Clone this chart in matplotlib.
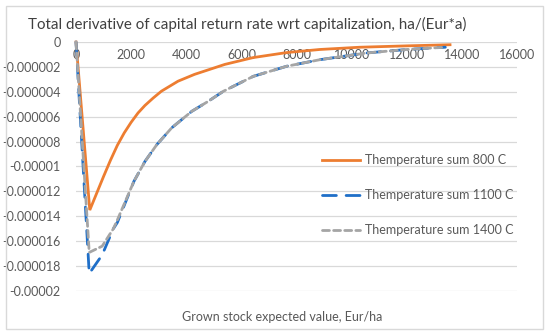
import matplotlib
matplotlib.use("Agg")
import matplotlib.pyplot as plt
import numpy as np
from matplotlib.patches import Rectangle
from matplotlib.ticker import FuncFormatter, MultipleLocator

plt.rcParams['font.family'] = ['Lato', 'DejaVu Sans']

# Data (y values in units of 1e-6)
x_800 = [0, 500, 1000, 1250, 1500, 1750, 2000, 2250, 2500, 2800, 3100, 3700, 4300, 5400, 6430, 7640, 8850, 10300, 12000, 13570]
y_800 = [0, -13.5, -10.8, -9.5, -8.3, -7.3, -6.45, -5.7, -5.1, -4.5, -3.95, -3.15, -2.6, -1.8, -1.25, -0.85, -0.6, -0.42, -0.31, -0.22]

x_dash = [0, 480, 950, 1355, 1500, 2100, 2500, 2930, 3470, 4200, 4800, 5345, 6430, 7640, 8850, 10550, 12000, 13400]
y_1100 = [0, -18.6, -17.1, -15.0, -14.5, -11.2, -9.6, -8.25, -6.9, -5.57, -4.76, -3.96, -2.76, -1.95, -1.42, -0.88, -0.6, -0.42]
y_1400 = [0, -16.9, -16.4, -15.0, -14.3, -11.2, -9.6, -8.25, -6.9, -5.57, -4.76, -3.96, -2.76, -1.95, -1.42, -0.88, -0.6, -0.42]

labels = ["Themperature sum 800 C", "Themperature sum 1100 C", "Themperature sum 1400 C"]
title = "Total derivative of capital return rate wrt capitalization, ha/(Eur*a)"
xlabel = "Grown stock expected value, Eur/ha"

scale = 1e-6

fig = plt.figure(figsize=(5.5, 3.35), dpi=100)
fig.patches.append(Rectangle((6/550, 6/335), 537/550, 323/335, transform=fig.transFigure,
                             fill=False, edgecolor='#D9D9D9', linewidth=1.0))
ax = fig.add_axes([76/550, 1-291/335, 441/550, 249/335])

ax.plot(x_800, np.array(y_800)*scale, color='#ED7D31', lw=2.0, label=labels[0],
        solid_joinstyle='miter', clip_on=False, zorder=3)
ax.plot(x_dash, np.array(y_1100)*scale, color='#1F6FC8', lw=2.0, label=labels[1],
        linestyle=(0, (5, 3.5)), dash_capstyle='round', clip_on=False, zorder=3)
ax.plot(x_dash, np.array(y_1400)*scale, color='#A5A5A5', lw=2.0, label=labels[2],
        linestyle=(0, (2.5, 1.5)), dash_capstyle='round', clip_on=False, zorder=4)

ax.set_xlim(0, 16000)
ax.set_ylim(-2e-5, 0)
ax.xaxis.set_major_locator(MultipleLocator(2000))
ax.yaxis.set_major_locator(MultipleLocator(2e-6))
ax.yaxis.set_major_formatter(FuncFormatter(lambda v, p: np.format_float_positional(round(v, 8), trim='-')))
ax.grid(axis='y', color='#D9D9D9', lw=0.9)
ax.set_axisbelow(True)
for s in ax.spines.values():
    s.set_visible(False)
ax.tick_params(axis='x', top=False, labeltop=True, bottom=False, labelbottom=False,
               pad=-13.5, length=0, labelsize=9, labelcolor='#595959')
ax.tick_params(axis='y', left=False, length=0, pad=11, labelsize=9, labelcolor='#595959')
ax.set_facecolor('none')

fig.text(247/550, 1-24/335, title, ha='center', va='center', fontsize=10.9, color='#404040')
fig.text(282/550, 1-317/335, xlabel, ha='center', va='center', fontsize=9, color='#595959')

leg = ax.legend(loc='upper left', bbox_to_anchor=(316/550, 1-148/335), bbox_transform=fig.transFigure,
                frameon=False, fontsize=9, labelspacing=1.85, handlelength=3.0, handletextpad=0.4,
                borderpad=0)
for t in leg.get_texts():
    t.set_color('#595959')

fig.savefig('out.png', dpi=100)
